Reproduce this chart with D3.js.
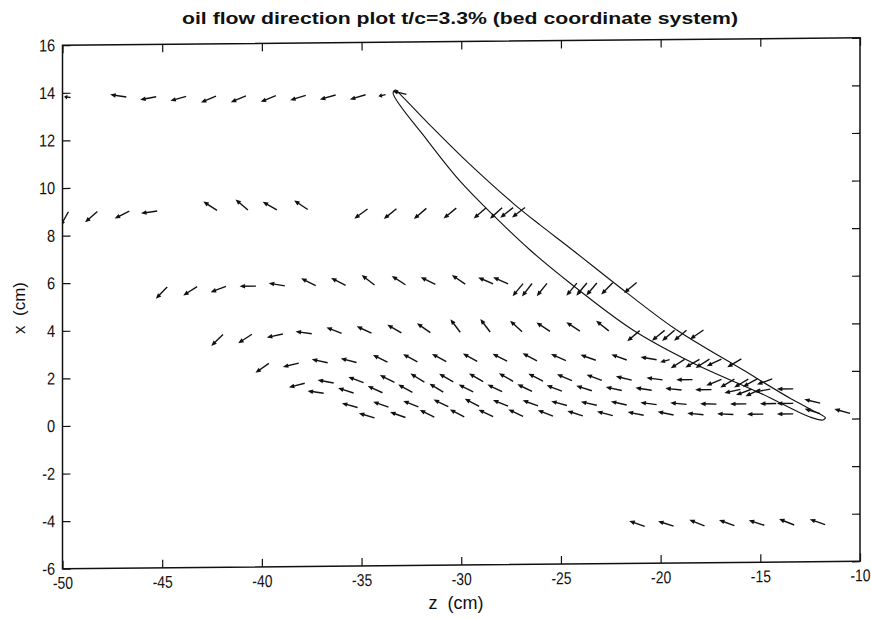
<!DOCTYPE html>
<html>
<head>
<meta charset="utf-8">
<script src="https://cdn.jsdelivr.net/npm/d3@7"></script>
<style>
body { margin: 0; background: #fff; }
#chart text { font-family: "Liberation Sans", Arial, Helvetica, sans-serif; fill: #111; }
</style>
</head>
<body>
<div id="chart"></div>
<script>
// tick labels
var zTicks = [-50, -45, -40, -35, -30, -25, -20, -15, -10];
var xTicks = [-6, -4, -2, 0, 2, 4, 6, 8, 10, 12, 14, 16];

// x (cm) of each measured row
var rowX = [13.8, 9.0, 5.8, 3.78, 2.55, 1.7, 1.27, 0.66, 0.22, -4.45];

// z (cm) of arrow origins and flow direction (deg, 0 = +z, 90 = +x) per row
var zA = [-49.6, -46.8, -45.3, -43.8, -42.3, -40.8, -39.3, -37.8, -36.3, -34.8, -33.8, -32.75];
var dirA = [172, 171, 190, 195, 202, 202, 202, 197, 195, 196, 193, 166];
var lenA = [0.4, 1, 1, 1, 1, 1, 1, 1, 1, 1, 0.45, 0.88];

var zB = [-49.7, -48.25, -46.65, -45.25, -42.25, -40.7, -39.25, -37.7, -34.7, -33.25, -31.75, -30.25, -28.75, -27.95, -27.4, -26.8];
var dirB = [240, 221, 206, 188, 147, 139, 150, 146, 216, 219, 220, 219, 220, 222, 218, 217];

var zC = [-44.75, -43.25, -41.8, -40.3, -38.85, -37.3, -35.8, -34.35, -32.8, -31.3, -29.8, -28.4, -27.65, -26.9, -26.45, -25.7, -24.2, -23.7, -23.2, -22.4, -21.2];
var dirC = [226, 212, 200, 180, 170, 153, 153, 142, 147, 153, 145, 156, 156, 230, 232, 231, 230, 230, 230, 225, 219];

var zD = [-41.95, -40.5, -38.95, -37.5, -36.0, -34.5, -33.0, -31.55, -30.05, -28.55, -26.95, -25.55, -24.05, -22.6, -21.05, -19.8, -19.3, -18.7, -17.85];
var dirD = [224, 213, 192, 172, 158, 155, 150, 145, 127, 127, 137, 146, 146, 141, 220, 219, 220, 220, 214];

var zE = [-39.65, -38.15, -36.7, -35.25, -33.7, -32.2, -30.75, -29.2, -27.7, -26.2, -24.75, -23.25, -21.7, -20.2, -19.55, -18.8, -18.05, -17.55, -16.95, -15.95];
var dirE = [215, 193, 167, 165, 153, 151, 151, 151, 153, 152, 156, 160, 160, 170, 195, 212, 210, 212, 205, 210];
var lenE = [1, 1, 1, 1, 1, 1, 1, 1, 1, 1, 1, 1, 1, 1, 0.6, 1, 1, 1, 1, 1];

var zF = [-37.85, -36.4, -34.9, -33.35, -31.85, -30.4, -28.9, -27.4, -25.9, -24.45, -22.95, -21.45, -19.9, -18.4, -16.95, -16.3, -15.6, -15.15, -14.4];
var dirF = [194, 169, 159, 153, 148, 150, 150, 150, 153, 156, 159, 166, 172, 180, 202, 210, 210, 208, 200];

var zG = [-36.9, -35.4, -33.95, -32.45, -30.9, -29.4, -27.95, -26.45, -24.95, -23.45, -21.95, -20.45, -18.95, -17.45, -16.0, -15.45, -15.0, -14.5, -13.35];
var dirG = [171, 162, 155, 150, 148, 153, 154, 154, 159, 162, 167, 171, 174, 180, 192, 200, 205, 190, 180];

var zH = [-35.2, -33.65, -32.15, -30.65, -29.1, -27.65, -26.15, -24.7, -23.2, -21.7, -20.2, -18.7, -17.2, -15.7, -14.2, -13.35, -12.0];
var dirH = [164, 160, 158, 154, 152, 158, 160, 164, 167, 167, 172, 174, 178, 180, 180, 180, 166];

var zI = [-34.35, -32.8, -31.35, -29.85, -28.4, -26.9, -25.4, -23.9, -22.4, -20.85, -19.35, -17.85, -16.35, -14.85, -13.35, -12.0, -10.5];
var dirI = [163, 160, 153, 152, 154, 154, 158, 162, 165, 168, 168, 174, 177, 180, 180, 162, 164];

var zJ = [-20.8, -19.35, -17.8, -16.3, -14.8, -13.3, -11.75];
var dirJ = [160, 162, 158, 160, 162, 158, 160];

// wing outline (z, x in cm)
var upperZ = [-33.3, -33.17, -31.57, -29.91, -27.41, -26.05, -24.55, -21.69, -19.19, -15.88, -13.37, -12.42, -11.92, -11.72];
var upperX = [14.0, 13.9, 12.5, 11.11, 9.19, 8.26, 7.28, 5.37, 3.79, 2.09, 0.81, 0.38, 0.16, 0.05];
var lowerZ = [-33.3, -33.42, -31.72, -30.07, -28.41, -26.55, -24.55, -21.39, -18.38, -15.02, -12.51, -11.86, -11.72];
var lowerX = [14.0, 13.86, 11.88, 10.14, 8.7, 7.21, 5.81, 3.81, 2.40, 1.11, 0.08, -0.05, 0.05];

var rows = [
	{x: rowX[0], z: zA, dir: dirA, len: lenA},
	{x: rowX[1], z: zB, dir: dirB},
	{x: rowX[2], z: zC, dir: dirC},
	{x: rowX[3], z: zD, dir: dirD},
	{x: rowX[4], z: zE, dir: dirE, len: lenE},
	{x: rowX[5], z: zF, dir: dirF},
	{x: rowX[6], z: zG, dir: dirG},
	{x: rowX[7], z: zH, dir: dirH},
	{x: rowX[8], z: zI, dir: dirI},
	{x: rowX[9], z: zJ, dir: dirJ}
];

var arrows = [];
rows.forEach(function (r) {
	r.z.forEach(function (zv, i) {
		arrows.push({z: zv, x: r.x, dir: r.dir[i], len: r.len ? r.len[i] : 1});
	});
});

var width = 871, height = 618;
var plotLeft = 62.5, plotRight = 860, plotTop = 41.5, plotBottom = 565;

var svg = d3.select("#chart").append("svg")
	.attr("width", width)
	.attr("height", height);

var z = d3.scaleLinear().domain([-50, -10]).range([plotLeft, plotRight]);
var y = d3.scaleLinear().domain([-6, 16]).range([plotBottom, plotTop]);

// the scanned plot is a little tilted
var cx = (plotLeft + plotRight) / 2, cy = (plotTop + plotBottom) / 2;
var plot = svg.append("g")
	.attr("transform", "translate(" + cx + "," + cy + ") skewY(-0.54) translate(" + (-cx) + "," + (-cy) + ")");

plot.append("defs").append("clipPath").attr("id", "plot-clip")
	.append("rect")
	.attr("x", plotLeft).attr("y", plotTop)
	.attr("width", plotRight - plotLeft).attr("height", plotBottom - plotTop);

// axes, ticks inside like matlab
var gx = plot.append("g")
	.attr("transform", "translate(0," + plotBottom + ")")
	.call(d3.axisBottom(z).tickValues(zTicks).tickSize(-8).tickSizeOuter(0).tickPadding(8)
		.tickFormat(function (d) { return String(d); }));
gx.selectAll("text").style("font-size", "17px").attr("transform", "scale(0.82,1)");

plot.append("g")
	.attr("transform", "translate(0," + plotTop + ")")
	.call(d3.axisTop(z).tickValues(zTicks).tickSize(-8).tickSizeOuter(0).tickFormat(""));

var gy = plot.append("g")
	.attr("transform", "translate(" + plotLeft + ",0)")
	.call(d3.axisLeft(y).tickValues(xTicks).tickSize(-8).tickSizeOuter(0).tickPadding(7)
		.tickFormat(function (d) { return String(d); }));
gy.selectAll("text").style("font-size", "17px").attr("x", -8.5).attr("transform", "scale(0.86,1)");

plot.append("g")
	.attr("transform", "translate(" + plotRight + ",0)")
	.call(d3.axisRight(y).tickValues(xTicks).tickSize(-8).tickSizeOuter(0).tickFormat(""));

plot.selectAll(".domain").remove();
plot.selectAll(".tick line").attr("stroke", "#111").attr("stroke-width", 1.2);

plot.append("rect")
	.attr("x", plotLeft).attr("y", plotTop)
	.attr("width", plotRight - plotLeft).attr("height", plotBottom - plotTop)
	.attr("fill", "none")
	.attr("stroke", "#111")
	.attr("stroke-width", 1.5);

var inner = plot.append("g").attr("clip-path", "url(#plot-clip)");

// wing
var line = d3.line()
	.x(function (d) { return z(d[0]); })
	.y(function (d) { return y(d[1]); })
	.curve(d3.curveCatmullRom);

inner.append("path")
	.datum(upperZ.map(function (d, i) { return [d, upperX[i]]; }))
	.attr("d", line)
	.attr("fill", "none").attr("stroke", "#111").attr("stroke-width", 1.1);

inner.append("path")
	.datum(lowerZ.map(function (d, i) { return [d, lowerX[i]]; }))
	.attr("d", line)
	.attr("fill", "none").attr("stroke", "#111").attr("stroke-width", 1.1);

// arrows
var unit = z(-50 + 0.82) - z(-50);

function arrowGeom(d) {
	var a = d.dir * Math.PI / 180;
	var L = unit * d.len;
	var x0 = z(d.z), y0 = y(d.x);
	var ux = Math.cos(a), uy = -Math.sin(a);
	var x1 = x0 + L * ux, y1 = y0 + L * uy;
	var hl = Math.min(5.5, L * 0.5), hw = 2.3;
	return {x0: x0, y0: y0, x1: x1, y1: y1, ux: ux, uy: uy, hl: hl, hw: hw};
}

var ag = inner.selectAll(".arrow")
	.data(arrows)
	.enter().append("g")
	.attr("class", "arrow");

ag.append("line")
	.attr("x1", function (d) { return arrowGeom(d).x0; })
	.attr("y1", function (d) { return arrowGeom(d).y0; })
	.attr("x2", function (d) { var g = arrowGeom(d); return g.x1 - g.ux * g.hl * 0.5; })
	.attr("y2", function (d) { var g = arrowGeom(d); return g.y1 - g.uy * g.hl * 0.5; })
	.attr("stroke", "#111")
	.attr("stroke-width", 1.4);

ag.append("path")
	.attr("d", function (d) {
		var g = arrowGeom(d);
		var bx = g.x1 - g.ux * g.hl, by = g.y1 - g.uy * g.hl;
		return "M" + g.x1 + "," + g.y1 +
			"L" + (bx - g.uy * g.hw) + "," + (by + g.ux * g.hw) +
			"L" + (bx + g.uy * g.hw) + "," + (by - g.ux * g.hw) + "Z";
	})
	.attr("fill", "#111");

// labels
svg.append("text")
	.attr("x", 460).attr("y", 24)
	.attr("text-anchor", "middle")
	.style("font-size", "17px")
	.style("font-weight", "bold")
	.attr("textLength", 556)
	.attr("lengthAdjust", "spacingAndGlyphs")
	.text("oil flow direction plot t/c=3.3% (bed coordinate system)");

svg.append("text")
	.attr("x", 456).attr("y", 609)
	.attr("text-anchor", "middle")
	.style("font-size", "18px")
	.style("white-space", "pre")
	.text("z  (cm)");

svg.append("text")
	.attr("transform", "translate(25,308) rotate(-90)")
	.attr("text-anchor", "middle")
	.style("font-size", "17px")
	.style("white-space", "pre")
	.text("x  (cm)");
</script>
</body>
</html>
